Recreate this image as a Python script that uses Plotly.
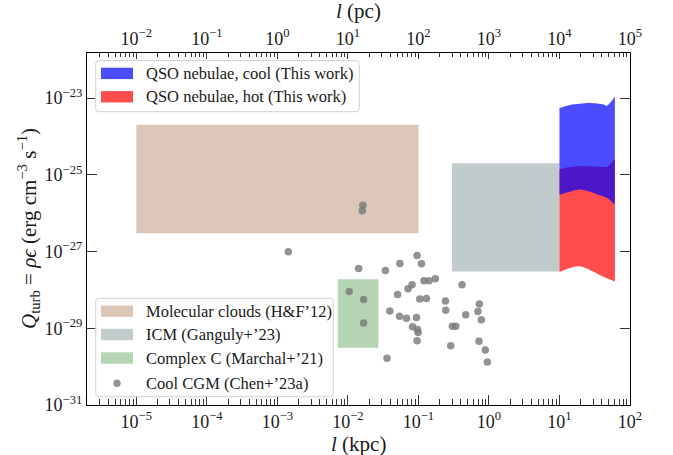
import numpy as np
import plotly.graph_objects as go

# ---------------------------------------------------------------------------
# Data
# ---------------------------------------------------------------------------
# QSO nebulae (this work): turbulent heating rate bands vs. scale l [kpc]
qso_l_kpc = [10, 14, 19.5, 27, 42, 47, 61]
qso_cool_top = [5.5e-24, 6.6e-24, 7.1e-24, 7.4e-24, 6.8e-24, 6.3e-24, 1.1e-23]
qso_cool_bottom = [3.0e-26, 3.6e-26, 4.1e-26, 3.6e-26, 2.7e-26, 2.5e-26, 1.66e-26]
qso_hot_top = [1.4e-25, 1.6e-25, 1.7e-25, 1.66e-25, 1.6e-25, 1.6e-25, 2.6e-25]
qso_hot_bottom = [2.9e-28, 3.7e-28, 4.1e-28, 3.3e-28, 2.2e-28, 2.0e-28, 1.66e-28]

# literature ranges: l range [kpc] and Q_turb range [erg cm^-3 s^-1]
mc_l = [1e-5, 1e-1]
mc_q = [3e-27, 2e-24]
icm_l = [0.3, 10]
icm_q = [3e-28, 2e-25]
complexc_l = [7.2e-3, 2.7e-2]
complexc_q = [3.1e-30, 1.9e-28]

# cool CGM measurements (Chen+'23a)
cgm_l = [0.0163, 0.0160, 0.00143, 0.0142, 0.034, 0.01044, 0.0167, 0.0393,
         0.0167, 0.0359, 0.0957, 0.0545, 0.1105, 0.415, 0.0813, 0.0714,
         0.120, 0.1416, 0.174, 0.0506, 0.1045, 0.130, 0.2415, 0.731,
         0.244, 0.699, 0.054, 0.0678, 0.0939, 0.468, 0.78, 0.0824,
         0.097, 0.0989, 0.303, 0.338, 0.0957, 0.287, 0.722, 0.889, 0.949]
cgm_q = [1.6e-26, 1.15e-26, 9.8e-28, 3.6e-28, 3.2e-28, 9.1e-29, 5.6e-29, 2.8e-29,
         1.38e-29, 1.66e-30, 7.9e-28, 4.9e-28, 4.8e-28, 1.35e-28, 1.37e-28, 1.07e-28,
         1.74e-28, 1.74e-28, 1.95e-28, 7.6e-29, 5.8e-29, 6.0e-29, 5.1e-29, 4.3e-29,
         2.95e-29, 2.75e-29, 2.04e-29, 1.82e-29, 1.91e-29, 2.24e-29, 1.66e-29, 1.1e-29,
         9.3e-30, 7.8e-30, 1.12e-29, 1.12e-29, 4.7e-30, 3.5e-30, 4.6e-30, 2.7e-30, 1.32e-30]

# axis ticks
x_kpc_ticks = [1e-5, 1e-4, 1e-3, 1e-2, 1e-1, 1e0, 1e1, 1e2]
x_kpc_exps = ["−5", "−4", "−3", "−2", "−1", "0", "1", "2"]
x_pc_ticks = [1e-2, 1e-1, 1e0, 1e1, 1e2, 1e3, 1e4, 1e5]
x_pc_exps = ["−2", "−1", "0", "1", "2", "3", "4", "5"]
y_ticks = [1e-31, 1e-29, 1e-27, 1e-25, 1e-23]
y_exps = ["−31", "−29", "−27", "−25", "−23"]

# legend entries
legend_top = [("QSO nebulae, cool (This work)", "rgba(0,0,255,0.7)"),
              ("QSO nebulae, hot (This work)", "rgba(255,0,0,0.7)")]
legend_bottom = [("Molecular clouds (H&amp;F’12)", "#dcc6b8"),
                 ("ICM (Ganguly+’23)", "#c2cbcc"),
                 ("Complex C (Marchal+’21)", "#b5d5b5"),
                 ("Cool CGM (Chen+’23a)", None)]

# ---------------------------------------------------------------------------
# Figure geometry
# ---------------------------------------------------------------------------
W, H = 673, 455
ML, MR, MT, MB = 87, 43, 53, 50
PW, PH = W - ML - MR, H - MT - MB
FONT = "Liberation Serif"
TXT = "#1a1a1a"
X_RANGE = [np.log10(2e-6), 2.0]
Y_RANGE = [-31.0, -31.0 + PH / 38.375]


def fx(px):
    return (px - ML) / PW


def fy(py):
    return 1 - (py - MT) / PH


def pow10(exps):
    return [f"10<sup>{e}</sup>" for e in exps]


def minor_vals(lo, hi):
    vals = []
    for k in range(lo, hi):
        for m in range(2, 10):
            vals.append(m * 10.0 ** k)
    return vals


def box(l, r):
    return [l, r, r, l, l]


fig = go.Figure()

# literature boxes
for lr, qr, col in [(mc_l, mc_q, "#dcc6b8"), (icm_l, icm_q, "#c2cbcc"),
                    (complexc_l, complexc_q, "#b5d5b5")]:
    fig.add_trace(go.Scatter(
        x=box(lr[0], lr[1]), y=[qr[0], qr[0], qr[1], qr[1], qr[0]],
        mode="lines", fill="toself", fillcolor=col,
        line=dict(width=0, color=col), hoverinfo="skip", showlegend=False))

# QSO nebulae bands: hot first, cool drawn on top
for top, bot, col in [(qso_hot_top, qso_hot_bottom, "rgba(255,0,0,0.7)"),
                      (qso_cool_top, qso_cool_bottom, "rgba(0,0,255,0.7)")]:
    fig.add_trace(go.Scatter(
        x=qso_l_kpc, y=bot, mode="lines",
        line=dict(width=0, shape="spline", smoothing=0.8, color=col),
        hoverinfo="skip", showlegend=False))
    fig.add_trace(go.Scatter(
        x=qso_l_kpc, y=top, mode="lines", fill="tonexty", fillcolor=col,
        line=dict(width=0, shape="spline", smoothing=0.8, color=col),
        hoverinfo="skip", showlegend=False))

# cool CGM points
fig.add_trace(go.Scatter(
    x=cgm_l, y=cgm_q, mode="markers",
    marker=dict(size=7.5, color="rgba(120,120,120,0.8)", line=dict(width=0)),
    hoverinfo="skip", showlegend=False))

# invisible trace carrying the top (pc) axis
fig.add_trace(go.Scatter(x=[1e0], y=[1e-40], xaxis="x2", mode="markers",
                         marker=dict(size=0, opacity=0), hoverinfo="skip",
                         showlegend=False))

tickfont = dict(family=FONT, size=18, color=TXT)

fig.update_layout(
    width=W, height=H,
    margin=dict(l=ML, r=MR, t=MT, b=MB),
    paper_bgcolor="white", plot_bgcolor="white",
    showlegend=False,
    xaxis=dict(
        type="log", range=X_RANGE, showgrid=False, zeroline=False,
        showline=True, linecolor="black", linewidth=1.2,
        ticks="inside", ticklen=10, tickwidth=1, tickcolor="#333",
        tickmode="array", tickvals=x_kpc_ticks, ticktext=pow10(x_kpc_exps),
        tickfont=tickfont,
        minor=dict(ticks="inside", ticklen=6, tickwidth=1, tickcolor="#333",
                   tickmode="array", tickvals=minor_vals(-6, 2)),
    ),
    xaxis2=dict(
        type="log", range=[X_RANGE[0] + 3, X_RANGE[1] + 3],
        overlaying="x", side="top", anchor="y",
        showgrid=False, zeroline=False,
        showline=True, linecolor="black", linewidth=1.2,
        ticks="inside", ticklen=6, tickwidth=1, tickcolor="#333",
        tickmode="array", tickvals=x_pc_ticks, ticktext=pow10(x_pc_exps),
        tickfont=tickfont,
        minor=dict(ticks="inside", ticklen=4, tickwidth=1, tickcolor="#333",
                   tickmode="array", tickvals=minor_vals(-3, 5)),
    ),
    yaxis=dict(
        type="log", range=Y_RANGE, showgrid=False, zeroline=False,
        showline=True, linecolor="black", linewidth=1.2, mirror="ticks",
        ticks="inside", ticklen=10, tickwidth=1, tickcolor="#333",
        tickmode="array", tickvals=y_ticks, ticktext=pow10(y_exps),
        tickfont=tickfont,
    ),
)

# axis titles
title_font = dict(family=FONT, size=21, color=TXT)
annotations = [
    dict(text="<i>l</i> (kpc)", x=fx(358), y=fy(444), xref="paper", yref="paper",
         xanchor="center", yanchor="middle", showarrow=False, font=title_font),
    dict(text="<i>l</i> (pc)", x=fx(358), y=fy(11), xref="paper", yref="paper",
         xanchor="center", yanchor="middle", showarrow=False, font=title_font),
    dict(text="<i>Q</i><sub>turb</sub> = <i>ρϵ</i> (erg cm<sup>−3</sup> s<sup>−1</sup>)",
         x=fx(28), y=fy(229), xref="paper", yref="paper", textangle=-90,
         xanchor="center", yanchor="middle", showarrow=False, font=title_font),
]

shapes = []


def rounded_box(x0, y0, x1, y1, r=3):
    # path in paper coordinates with rounded corners (pixel radius r)
    def P(px, py):
        return f"{fx(px):.5f},{fy(py):.5f}"
    d = (f"M {P(x0 + r, y0)} L {P(x1 - r, y0)} Q {P(x1, y0)} {P(x1, y0 + r)} "
         f"L {P(x1, y1 - r)} Q {P(x1, y1)} {P(x1 - r, y1)} "
         f"L {P(x0 + r, y1)} Q {P(x0, y1)} {P(x0, y1 - r)} "
         f"L {P(x0, y0 + r)} Q {P(x0, y0)} {P(x0 + r, y0)} Z")
    return dict(type="path", path=d, xref="paper", yref="paper",
                fillcolor="rgba(255,255,255,0.85)",
                line=dict(color="#d0d0d0", width=1), layer="above")


def draw_legend(entries, x0, y0, x1, y1, row_y):
    shapes.append(rounded_box(x0, y0, x1, y1))
    for (label, col), cy in zip(entries, row_y):
        if col is not None:
            shapes.append(dict(type="rect", xref="paper", yref="paper",
                               x0=fx(101), x1=fx(133), y0=fy(cy - 5.7), y1=fy(cy + 5.7),
                               fillcolor=col, line=dict(width=0), layer="above"))
        else:
            shapes.append(dict(type="circle", xref="paper", yref="paper",
                               x0=fx(113.3), x1=fx(120.7), y0=fy(cy - 3.7), y1=fy(cy + 3.7),
                               fillcolor="rgba(120,120,120,0.8)", line=dict(width=0),
                               layer="above"))
        annotations.append(dict(text=label, x=fx(144), y=fy(cy), xref="paper",
                                yref="paper", xanchor="left", yanchor="middle",
                                showarrow=False,
                                font=dict(family=FONT, size=16.5, color=TXT)))


draw_legend(legend_top, 95.7, 60.7, 359.3, 111.7, [73.4, 96.8])
draw_legend(legend_bottom, 95.7, 298.3, 333.3, 396.7, [311.2, 334.5, 358.0, 383.3])

fig.update_layout(shapes=shapes, annotations=annotations)

fig.write_html("out.html")
